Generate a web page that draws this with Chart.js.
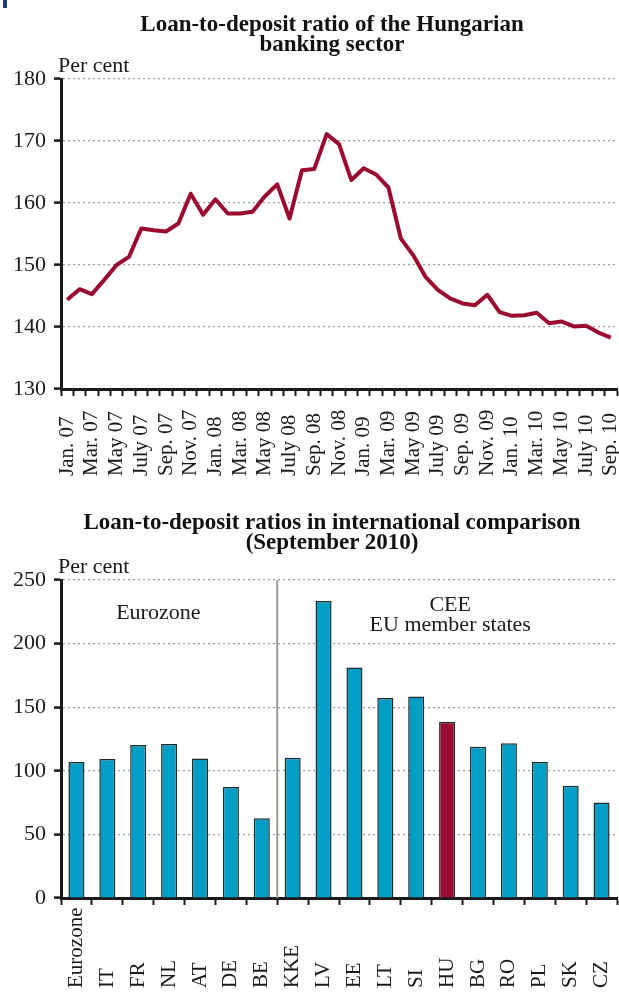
<!DOCTYPE html>
<html>
<head>
<meta charset="utf-8">
<script src="https://cdn.jsdelivr.net/npm/chart.js@4.4.0/dist/chart.umd.min.js"></script>
<style>
  body { margin: 0; background: #fff; width: 619px; height: 992px; position: relative; overflow: hidden; }
  .box { position: absolute; left: 0; width: 619px; }
  .title { position: absolute; left: 0; width: 664px; text-align: center; font-family: "Liberation Serif", serif;
           font-weight: bold; font-size: 23px; line-height: 20px; color: #111; }
  .mark { position: absolute; left: 3px; top: 0; width: 4px; height: 8px; background: #1f3b73; }
</style>
</head>
<body>
<div class="mark"></div>
<div class="box" style="top:0;height:490px"><canvas id="ratioChart"></canvas></div>
<div class="box" style="top:500px;height:492px"><canvas id="compareChart"></canvas></div>
<div class="title" style="top:14px">Loan-to-deposit ratio of the Hungarian<br>banking sector</div>
<div class="title" style="top:512px">Loan-to-deposit ratios in international comparison<br>(September 2010)</div>

<script>
// top chart: monthly loan-to-deposit ratio, Jan. 07 - Sep. 10
var monthNames = ['Jan.', 'Feb.', 'Mar.', 'Apr.', 'May', 'June', 'July', 'Aug.', 'Sep.', 'Oct.', 'Nov.', 'Dec.']
var years = ['07', '08', '09', '10']
var ratioValues = [
  144.4, 146.1, 145.3, 147.6, 150.0, 151.3, 155.9, 155.6, 155.4, 156.7, 161.5, 158.1,
  160.6, 158.3, 158.3, 158.6, 161.1, 163.0, 157.5, 165.3, 165.5, 171.1, 169.5, 163.7,
  165.6, 164.6, 162.5, 154.3, 151.6, 148.1, 146.0, 144.6, 143.8, 143.5, 145.2, 142.4,
  141.8, 141.9, 142.3, 140.6, 140.9, 140.1, 140.2, 139.1, 138.3
]
var ratioTicks = [130, 140, 150, 160, 170, 180]

// bottom chart: September 2010 comparison
var countries = ['Eurozone', 'IT', 'FR', 'NL', 'AT', 'DE', 'BE', 'KKE', 'LV', 'EE', 'LT', 'SI', 'HU', 'BG', 'RO', 'PL', 'SK', 'CZ']
var countryValues = [106.9, 109.3, 120.2, 121.0, 109.6, 87.3, 62.7, 110.3, 233.4, 181.2, 157.3, 158.4, 138.5, 118.9, 121.6, 106.9, 88.3, 75.0]
var compareTicks = [0, 50, 100, 150, 200, 250]
var highlight = 'HU'

var months = []
years.forEach(function (y) {
  monthNames.forEach(function (m) {
    if (months.length < ratioValues.length) months.push(m + ' ' + y)
  })
})
// only every second month gets a label
var monthLabels = months.map(function (m, i) { return i % 2 === 0 ? m : '' })

var textFont = '"Liberation Serif", serif'
var ink = '#1a1a1a'
var crimson = '#9b0b2f'
var teal = '#009dc5'

// rotated x labels, aligned at their start (bottom) like the original
var bottomLabels = {
  id: 'bottomLabels',
  afterDraw: function (chart, args, opts) {
    var ctx = chart.ctx
    var scale = chart.scales.x
    ctx.save()
    ctx.fillStyle = ink
    ctx.font = opts.size + 'px ' + textFont
    ctx.textAlign = 'left'
    ctx.textBaseline = 'middle'
    scale.ticks.forEach(function (t, i) {
      var label = opts.labels[i]
      if (!label) return
      ctx.save()
      ctx.translate(scale.getPixelForTick(i), opts.bottom)
      ctx.rotate(-Math.PI / 2)
      ctx.fillText(label, 0, 0)
      ctx.restore()
    })
    ctx.restore()
  }
}

// "Per cent" unit plus free text notes placed by scale values
var notes = {
  id: 'notes',
  beforeDatasetsDraw: function (chart, args, opts) {
    if (opts.divider == null) return
    var ctx = chart.ctx
    var xs = chart.scales.x
    var area = chart.chartArea
    var x = (xs.getPixelForValue(opts.divider) + xs.getPixelForValue(opts.divider + 1)) / 2
    ctx.save()
    ctx.strokeStyle = '#9a9a9a'
    ctx.lineWidth = 2
    ctx.beginPath()
    ctx.moveTo(x, area.top)
    ctx.lineTo(x, area.bottom)
    ctx.stroke()
    ctx.restore()
  },
  afterDraw: function (chart, args, opts) {
    var ctx = chart.ctx
    var xs = chart.scales.x
    var ys = chart.scales.y
    var area = chart.chartArea
    ctx.save()
    ctx.fillStyle = ink
    ctx.font = opts.size + 'px ' + textFont
    ctx.textBaseline = 'alphabetic'
    ctx.textAlign = 'left'
    ctx.fillText('Per cent', area.left - 3, area.top - 7)
    ctx.textAlign = 'center'
    ctx.textBaseline = 'middle';
    (opts.items || []).forEach(function (n) {
      ctx.fillText(n.text, xs.getPixelForValue(n.x), ys.getPixelForValue(n.y))
    })
    ctx.restore()
  }
}

function yAxis (ticks, width) {
  return {
    min: ticks[0],
    max: ticks[ticks.length - 1],
    afterBuildTicks: function (s) { s.ticks = ticks.map(function (v) { return { value: v } }) },
    afterFit: function (s) { s.width = width },
    ticks: { color: ink, font: { family: textFont, size: 22 }, padding: 8 },
    grid: { color: '#9a9a9a', lineWidth: 1.2, tickColor: ink, tickWidth: 2.5, tickLength: 7 },
    border: { color: ink, width: 3, dash: [2, 3] }
  }
}

function xAxis (height) {
  return {
    offset: true,
    afterFit: function (s) { s.height = height },
    ticks: { display: false, autoSkip: false },
    grid: { offset: true, drawOnChartArea: false, tickColor: ink, tickWidth: 2, tickLength: 7 },
    border: { color: ink, width: 3 }
  }
}

new Chart(document.getElementById('ratioChart'), {
  type: 'line',
  data: {
    labels: months,
    datasets: [{
      data: ratioValues,
      borderColor: crimson,
      borderWidth: 4,
      pointRadius: 0,
      tension: 0,
      borderJoinStyle: 'round'
    }]
  },
  options: {
    responsive: true,
    maintainAspectRatio: false,
    animation: false,
    layout: { padding: { top: 79, right: 2, left: 0, bottom: 0 } },
    scales: { x: xAxis(101), y: yAxis(ratioTicks, 61) },
    plugins: {
      legend: { display: false },
      tooltip: { enabled: false },
      bottomLabels: { labels: monthLabels, size: 21, bottom: 476 },
      notes: { size: 22 }
    }
  },
  plugins: [bottomLabels, notes]
})

new Chart(document.getElementById('compareChart'), {
  type: 'bar',
  data: {
    labels: countries,
    datasets: [{
      data: countryValues,
      backgroundColor: countries.map(function (c) { return c === highlight ? crimson : teal }),
      borderColor: '#1d2b30',
      borderWidth: 1.5,
      barPercentage: 0.52,
      categoryPercentage: 1
    }]
  },
  options: {
    responsive: true,
    maintainAspectRatio: false,
    animation: false,
    layout: { padding: { top: 80, right: 2, left: 0, bottom: 0 } },
    scales: { x: xAxis(94), y: yAxis(compareTicks, 61) },
    plugins: {
      legend: { display: false },
      tooltip: { enabled: false },
      bottomLabels: { labels: countries, size: 21, bottom: 488 },
      notes: {
        size: 22,
        divider: 6,
        items: [
          { text: 'Eurozone', x: 2.65, y: 224 },
          { text: 'CEE', x: 12.1, y: 230 },
          { text: 'EU member states', x: 12.1, y: 214.4 }
        ]
      }
    }
  },
  plugins: [bottomLabels, notes]
})
</script>
</body>
</html>
